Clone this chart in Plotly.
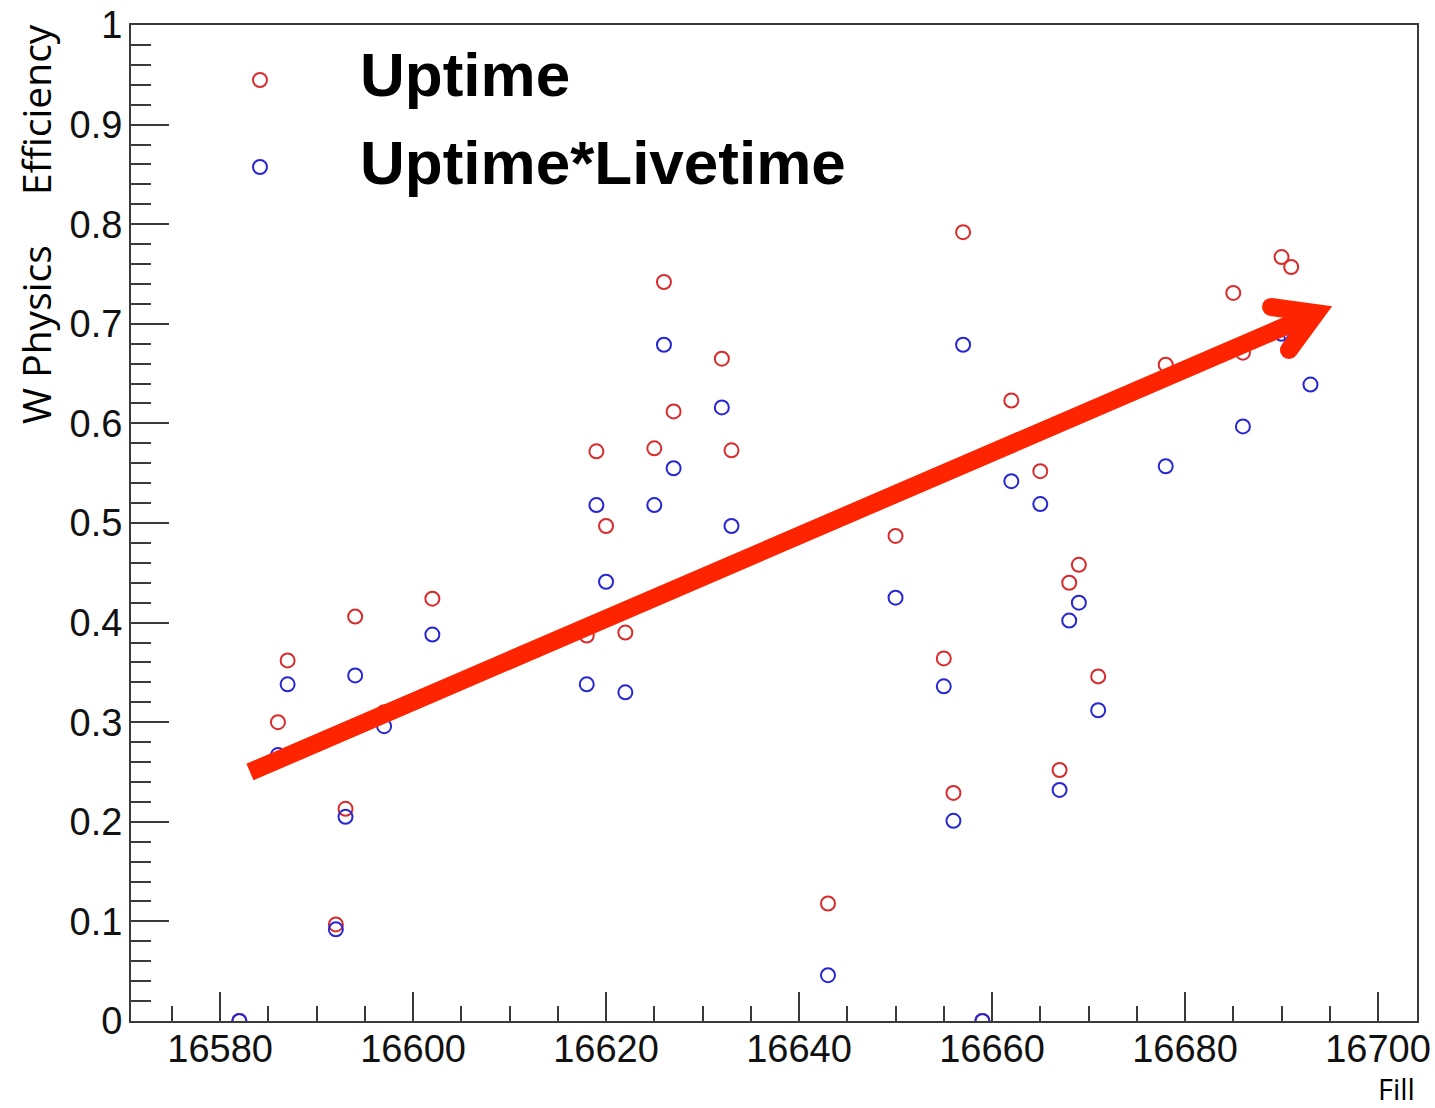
import plotly.graph_objects as go

# Fill numbers (shared by both series)
fills = [16582, 16586, 16587, 16592, 16593, 16594, 16597, 16602, 16618, 16619,
         16620, 16622, 16625, 16626, 16627, 16632, 16633, 16643, 16650, 16655,
         16656, 16657, 16659, 16662, 16665, 16667, 16668, 16669, 16671, 16678,
         16685, 16686, 16690, 16691, 16693]

# W physics efficiency per fill
uptime = [0.000, 0.300, 0.362, 0.097, 0.213, 0.406, 0.310, 0.424, 0.387, 0.572,
          0.497, 0.390, 0.575, 0.742, 0.612, 0.665, 0.573, 0.118, 0.487, 0.364,
          0.229, 0.792, 0.000, 0.623, 0.552, 0.252, 0.440, 0.458, 0.346, 0.659,
          0.731, 0.671, 0.767, 0.757, 0.705]

uptime_livetime = [0.000, 0.267, 0.338, 0.092, 0.205, 0.347, 0.296, 0.388, 0.338, 0.518,
                   0.441, 0.330, 0.518, 0.679, 0.555, 0.616, 0.497, 0.046, 0.425, 0.336,
                   0.201, 0.679, 0.000, 0.542, 0.519, 0.232, 0.402, 0.420, 0.312, 0.557,
                   0.675, 0.597, 0.690, 0.688, 0.639]

series_names = ["Uptime", "Uptime*Livetime"]

# Trend arrow drawn over the data (fill, efficiency)
arrow_start = (16583.10, 0.250)
arrow_vertex = (16693.57, 0.7108)
arrow_arm_a = (16688.91, 0.7169)
arrow_arm_b = (16690.77, 0.6737)

RED = "#d92b2b"
BLUE = "#2626d4"
ARROW = "#ff2400"
AXIS = "#3a3a3a"

fig = go.Figure()
fig.add_trace(go.Scatter(
    x=fills, y=uptime, mode="markers", name=series_names[0],
    marker=dict(symbol="circle-open", size=14, color=RED, line=dict(width=2)),
    showlegend=False,
))
fig.add_trace(go.Scatter(
    x=fills, y=uptime_livetime, mode="markers", name=series_names[1],
    marker=dict(symbol="circle-open", size=14, color=BLUE, line=dict(width=2)),
    showlegend=False,
))

shapes = [
    dict(type="line", xref="x", yref="y",
         x0=arrow_start[0], y0=arrow_start[1], x1=arrow_vertex[0], y1=arrow_vertex[1],
         line=dict(color=ARROW, width=18)),
    dict(type="path", xref="x", yref="y",
         path=f"M {arrow_arm_a[0]},{arrow_arm_a[1]} L {arrow_vertex[0]},{arrow_vertex[1]} "
              f"L {arrow_arm_b[0]},{arrow_arm_b[1]}",
         line=dict(color=ARROW, width=18)),
]
# rounded ends on the arrowhead arms
for ax_, ay_ in (arrow_arm_a, arrow_arm_b):
    shapes.append(dict(type="circle", xref="x", yref="y",
                       xsizemode="pixel", ysizemode="pixel",
                       xanchor=ax_, yanchor=ay_, x0=-9, x1=9, y0=-9, y1=9,
                       fillcolor=ARROW, line=dict(width=0)))

# legend markers
legend_rows = [(0.9448, RED), (0.8574, BLUE)]
for ly, col in legend_rows:
    shapes.append(dict(type="circle", xref="paper", yref="paper",
                       xsizemode="pixel", ysizemode="pixel",
                       xanchor=0.1003, yanchor=ly, x0=-7, x1=7, y0=-7, y1=7,
                       line=dict(color=col, width=2), fillcolor="rgba(0,0,0,0)"))

legend_font = dict(family="Liberation Sans, Arial, sans-serif", size=62, color="#000")
title_font = dict(family="Open Sans, sans-serif", size=39, color="#000")

annotations = [
    dict(text="<b>Uptime</b>", xref="paper", yref="paper", x=0.1765, y=0.9498,
         xanchor="left", yanchor="middle", showarrow=False, font=legend_font),
    dict(text="<b>Uptime*Livetime</b>", xref="paper", yref="paper", x=0.1765, y=0.8624,
         xanchor="left", yanchor="middle", showarrow=False, font=legend_font),
    dict(text="W Physics", xref="paper", yref="paper", x=-0.0739, y=0.6898,
         xanchor="center", yanchor="middle", textangle=-90, showarrow=False,
         font=title_font),
    dict(text="Efficiency", xref="paper", yref="paper", x=-0.0739, y=0.9157,
         xanchor="center", yanchor="middle", textangle=-90, showarrow=False,
         font=title_font),
    dict(text="Fill", xref="paper", yref="paper", x=1.0, y=-0.0673,
         xanchor="right", yanchor="middle", showarrow=False,
         font=dict(family="Open Sans, sans-serif", size=29, color="#000")),
]

tick_font = dict(family="Liberation Sans, Arial, sans-serif", size=38, color="#111")

fig.update_layout(
    width=1435, height=1108,
    margin=dict(l=131, r=18, t=25, b=87),
    paper_bgcolor="white", plot_bgcolor="white",
    shapes=shapes, annotations=annotations,
    xaxis=dict(
        range=[16570.77, 16704.04], tick0=16580, dtick=20, tickformat="d",
        ticks="inside", ticklen=29, tickwidth=2, tickcolor=AXIS,
        minor=dict(dtick=5, tick0=16580, ticks="inside", ticklen=15, tickwidth=2, tickcolor=AXIS),
        showline=True, linecolor=AXIS, linewidth=2, mirror=True, automargin=False,
        showgrid=False, zeroline=False, tickfont=tick_font, ticklabelstandoff=-7,
    ),
    yaxis=dict(
        range=[0, 1], tick0=0, dtick=0.1,
        ticks="inside", ticklen=38, tickwidth=2, tickcolor=AXIS,
        minor=dict(dtick=0.02, tick0=0, ticks="inside", ticklen=20, tickwidth=2, tickcolor=AXIS),
        showline=True, linecolor=AXIS, linewidth=2, mirror=True, automargin=False,
        showgrid=False, zeroline=False, tickfont=tick_font, ticklabelstandoff=-1,
    ),
)

fig.write_html("out.html")
